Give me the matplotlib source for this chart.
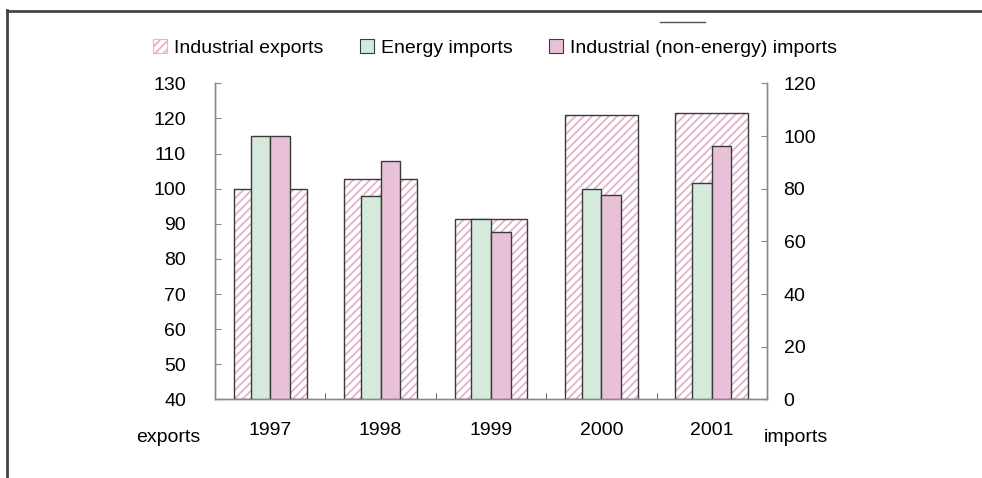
import matplotlib.pyplot as plt
import numpy as np
from matplotlib.lines import Line2D
from matplotlib.patches import Patch

plt.rcParams['font.family'] = ['Liberation Sans', 'DejaVu Sans']
plt.rcParams['hatch.linewidth'] = 1.3

# ── Data ──
years = ['1997', '1998', '1999', '2000', '2001']
exports = [100, 102.8, 91.4, 121.0, 121.7]          # left axis
energy_imports = [100, 77.2, 68.4, 79.8, 82.3]       # right axis
industrial_imports = [100, 90.5, 63.4, 77.6, 96.2]   # right axis

pink_hatch = '#e4b2cd'
green = '#d5eadb'
pink = '#e8c1d9'
edge = '#3a3a3a'
axis_gray = '#8a8a8a'
fs = 14

fig = plt.figure(figsize=(9.82, 4.78), dpi=100)
ax = fig.add_axes([0.219, 0.1646, 0.562, 0.661])
ax2 = ax.twinx()

x = np.arange(len(years))

# exports: hatched wide bars (hatch pass + outline pass)
ax.bar(x, [v - 40 for v in exports], bottom=40, width=0.66,
       color='white', edgecolor=pink_hatch, hatch='////', linewidth=0, zorder=1)
ax.bar(x, [v - 40 for v in exports], bottom=40, width=0.66,
       fill=False, edgecolor=edge, linewidth=1.0, zorder=2)

# imports: narrow bars on the right axis
w = 0.177
ax2.bar(x - w / 2, energy_imports, width=w, color=green, edgecolor=edge,
        linewidth=1.0, zorder=3)
ax2.bar(x + w / 2, industrial_imports, width=w, color=pink, edgecolor=edge,
        linewidth=1.0, zorder=3)
ax.set_zorder(1)
ax2.set_zorder(2)
ax2.patch.set_visible(False)

ax.set_xlim(-0.5, len(years) - 0.5)
ax.set_ylim(40, 130)
ax.set_yticks(range(40, 131, 10))
ax2.set_ylim(0, 120)
ax2.set_yticks(range(0, 121, 20))

ax.set_xticks(x)
ax.set_xticklabels(years)
ax.set_xticks(np.arange(0.5, len(years) - 0.5, 1), minor=True)

for a in (ax, ax2):
    a.spines['top'].set_visible(False)
    for s in ('left', 'right', 'bottom'):
        a.spines[s].set_color(axis_gray)
        a.spines[s].set_linewidth(1.0)

ax.tick_params(axis='y', direction='in', length=4, color=axis_gray,
               labelsize=fs, pad=21)
ax2.tick_params(axis='y', direction='in', length=4, color=axis_gray,
                labelsize=fs, pad=12)
ax.tick_params(axis='x', which='major', length=0, labelsize=fs, pad=16)
ax.tick_params(axis='x', which='minor', direction='in', length=4,
               color='#444444')

fig.text(168 / 982, 1 - 438 / 478, 'exports', ha='center', va='center',
         fontsize=fs)
fig.text(796 / 982, 1 - 438 / 478, 'imports', ha='center', va='center',
         fontsize=fs)

handles = [
    Patch(facecolor='white', edgecolor=pink_hatch, hatch='////', linewidth=0.8),
    Patch(facecolor=green, edgecolor=edge, linewidth=0.8),
    Patch(facecolor=pink, edgecolor=edge, linewidth=0.8),
]
labels = ['Industrial exports', 'Energy imports',
          'Industrial (non-energy) imports']
fig.legend(handles, labels, loc='center', ncol=3,
           bbox_to_anchor=(495 / 982, 1 - 48 / 478), frameon=False,
           fontsize=fs, handlelength=0.7, handleheight=0.7,
           handletextpad=0.35, columnspacing=1.9)

# outer frame (left and top edges)
fig.add_artist(Line2D([7 / 982, 7 / 982], [0, 1 - 10 / 478],
                      transform=fig.transFigure, color='#444444', lw=2))
fig.add_artist(Line2D([7 / 982, 1], [1 - 11 / 478, 1 - 11 / 478],
                      transform=fig.transFigure, color='#444444', lw=2))
fig.add_artist(Line2D([660 / 982, 705 / 982], [1 - 22 / 478, 1 - 22 / 478],
                      transform=fig.transFigure, color='#555555', lw=1))

plt.savefig('out.png', dpi=100)
